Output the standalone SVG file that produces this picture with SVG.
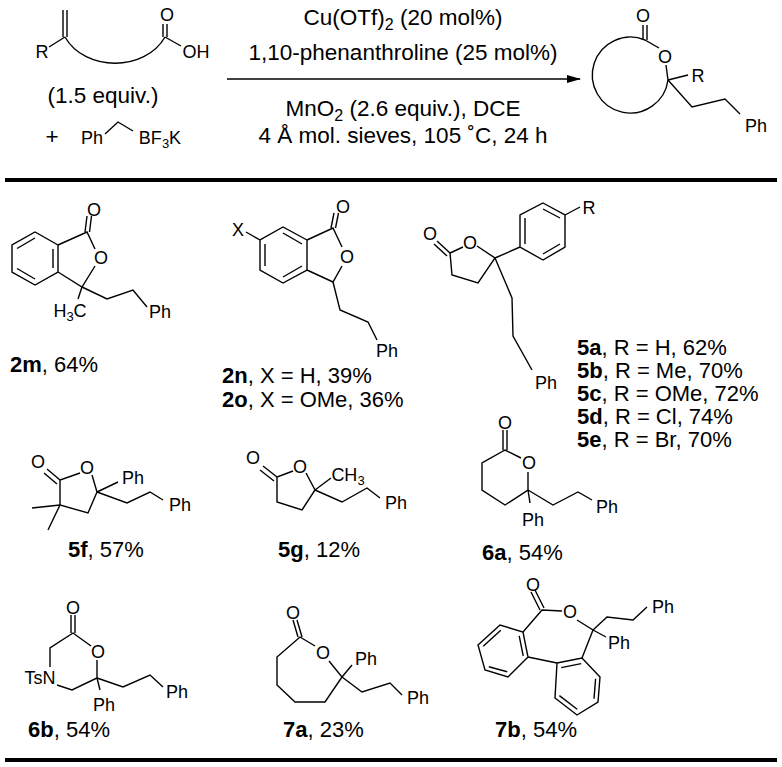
<svg xmlns="http://www.w3.org/2000/svg" width="782" height="767" viewBox="0 0 782 767">
<style>
text{font-family:"Liberation Sans",Arial,sans-serif;fill:#000}
.a{font-size:18px;text-anchor:middle}
.c{font-size:22.5px;text-anchor:middle}
.l{font-size:22px}
.b{font-weight:bold}
.s{font-size:13px}
g.m path,g.m line,g.m polyline,g.m polygon{fill:none;stroke:#000;stroke-width:1.4}
</style>
<defs><marker id="ah" markerWidth="14" markerHeight="8" refX="13" refY="4" orient="auto" markerUnits="userSpaceOnUse"><path d="M0,0 L14,4 L0,8 z" fill="#000"/></marker></defs>
<rect width="782" height="767" fill="#fff"/>
<g id="reactant" class="m">
<line x1="63" y1="10" x2="63" y2="37"/><line x1="67" y1="10" x2="67" y2="37"/>
<line x1="65" y1="37" x2="49" y2="47"/>
<path d="M65,37 C85,72 145,72 165,37"/>
<line x1="163" y1="37" x2="163" y2="24"/><line x1="167" y1="37" x2="167" y2="24"/>
<line x1="165" y1="37" x2="181" y2="46"/>
<text class="a" x="42" y="58">R</text><text class="a" x="167" y="21">O</text><text class="a" x="196" y="58">OH</text>
<text class="c" x="103" y="103">(1.5 equiv.)</text>
<text class="c" x="52" y="144">+</text>
<text class="a" x="92" y="144">Ph</text>
<path d="M105,134 L118,122 L133,131"/>
<text class="a" x="160" y="144">BF<tspan class="s" dy="4">3</tspan><tspan dy="-4">K</tspan></text>
</g>
<g id="conditions" class="m">
<line x1="227" y1="79" x2="580" y2="79" marker-end="url(#ah)"/>
<text class="c" x="403" y="25">Cu(OTf)<tspan font-size="16" dy="5">2</tspan><tspan dy="-5"> (20 mol%)</tspan></text>
<text class="c" x="403" y="60">1,10-phenanthroline (25 mol%)</text>
<text class="c" x="403" y="116">MnO<tspan font-size="16" dy="5">2</tspan><tspan dy="-5"> (2.6 equiv.), DCE</tspan></text>
<text class="c" x="403" y="143">4 Å mol. sieves, 105 ˚C, 24 h</text>
</g>
<g id="product" class="m">
<path d="M645,40 A38,38 0 1 0 668,80"/>
<line x1="643" y1="40" x2="643" y2="25"/><line x1="647" y1="40" x2="647" y2="25"/>
<line x1="645" y1="40" x2="659" y2="48"/><line x1="666" y1="65" x2="668" y2="80"/>
<line x1="668" y1="80" x2="688" y2="75"/>
<polyline points="668,80 692,107 725,99 740,114"/>
<text class="a" x="643" y="22">O</text><text class="a" x="665" y="63">O</text><text class="a" x="698" y="82">R</text><text class="a" x="756" y="132">Ph</text>
</g>
<line x1="5" y1="180" x2="777" y2="180" stroke="#000" stroke-width="4"/>
<line x1="5" y1="760" x2="777" y2="760" stroke="#000" stroke-width="4"/>
<g id="c2m" class="m">
<polygon points="58,245 35,232 12,245 12,272 35,285 58,272"/>
<line x1="35" y1="238" x2="17" y2="248.5"/><line x1="17" y1="268.5" x2="35" y2="279"/><line x1="53" y1="268" x2="53" y2="249"/>
<polyline points="58,245 87,232 95,249"/><polyline points="95,266 82,287 58,272"/>
<line x1="85" y1="232" x2="87" y2="216"/><line x1="89.5" y1="232" x2="91.5" y2="216"/>
<line x1="82" y1="287" x2="78" y2="299"/>
<polyline points="82,287 107,299 133,290 147,307"/>
<text class="a" x="94" y="216">O</text><text class="a" x="101" y="264">O</text>
<text class="a" x="70" y="317">H<tspan class="s" dy="4">3</tspan><tspan dy="-4">C</tspan></text>
<text class="a" x="160" y="318">Ph</text>
<text class="l" x="10" y="372"><tspan class="b">2m</tspan>, 64%</text>
</g>
<g id="c2n" class="m">
<polygon points="307,240 283,227 260,240 260,270 283,283 307,270"/>
<line x1="283" y1="233" x2="302" y2="244"/><line x1="265" y1="244" x2="265" y2="266"/><line x1="283" y1="277" x2="302" y2="266"/>
<line x1="260" y1="240" x2="246" y2="232"/>
<polyline points="307,240 333,228 342,247"/><polyline points="342,266 333,282 307,270"/>
<line x1="331" y1="228" x2="334" y2="213"/><line x1="335.5" y1="228" x2="338.5" y2="213"/>
<polyline points="333,282 340,310 368,322 377,340"/>
<text class="a" x="238" y="236">X</text><text class="a" x="343" y="213">O</text><text class="a" x="347" y="263">O</text><text class="a" x="387" y="357">Ph</text>
<text class="l" x="222" y="383"><tspan class="b">2n</tspan>, X = H, 39%</text>
<text class="l" x="222" y="407"><tspan class="b">2o</tspan>, X = OMe, 36%</text>
</g>
<g id="c5a" class="m">
<polyline points="463,247 450,253 452,275 478,283 495,258 477,246"/>
<line x1="450" y1="253" x2="437" y2="241"/><line x1="447" y1="256" x2="434" y2="244"/>
<polygon points="543,203 565,215 565,247 543,260 520,247 520,215"/>
<line x1="543" y1="209" x2="560" y2="218"/><line x1="560" y1="244" x2="543" y2="254"/><line x1="525" y1="244" x2="525" y2="218"/>
<line x1="495" y1="258" x2="520" y2="247"/>
<line x1="565" y1="215" x2="580" y2="207"/>
<polyline points="495,258 512,298 513,336 532,370"/>
<text class="a" x="546" y="389">Ph</text>
<text class="a" x="430" y="240">O</text><text class="a" x="470" y="249">O</text><text class="a" x="589" y="214">R</text>
<text class="l" x="577" y="355"><tspan class="b">5a</tspan>, R = H, 62%</text>
<text class="l" x="577" y="378"><tspan class="b">5b</tspan>, R = Me, 70%</text>
<text class="l" x="577" y="401"><tspan class="b">5c</tspan>, R = OMe, 72%</text>
<text class="l" x="577" y="424"><tspan class="b">5d</tspan>, R = Cl, 74%</text>
<text class="l" x="577" y="447"><tspan class="b">5e</tspan>, R = Br, 70%</text>
</g>
<g id="c5f" class="m">
<polyline points="80,473 60,480 60,505 88,513 97,492 92,475"/>
<line x1="60" y1="480" x2="47" y2="469"/><line x1="57" y1="484" x2="44" y2="473"/>
<line x1="60" y1="505" x2="32" y2="508"/><line x1="60" y1="505" x2="48" y2="530"/>
<line x1="97" y1="492" x2="118" y2="482"/>
<polyline points="97,492 127,503 150,492 163,500"/>
<text class="a" x="38" y="468">O</text><text class="a" x="87" y="474">O</text><text class="a" x="133" y="484">Ph</text><text class="a" x="180" y="511">Ph</text>
<text class="l" x="68" y="557"><tspan class="b">5f</tspan>, 57%</text>
</g>
<g id="c5g" class="m">
<polyline points="293,471 277,477 277,502 302,510 315,490 306,473"/>
<line x1="277" y1="477" x2="263" y2="466"/><line x1="274" y1="481" x2="260" y2="470"/>
<line x1="315" y1="490" x2="331" y2="478"/>
<polyline points="315,490 342,502 367,488 380,498"/>
<text class="a" x="253" y="464">O</text><text class="a" x="300" y="473">O</text>
<text class="a" x="348" y="481">CH<tspan class="s" dy="4">3</tspan></text>
<text class="a" x="396" y="509">Ph</text>
<text class="l" x="278" y="557"><tspan class="b">5g</tspan>, 12%</text>
</g>
<g id="c6a" class="m">
<polyline points="521,458 505,450 482,463 482,490 505,505 528,490 528,472"/>
<line x1="503" y1="450" x2="503" y2="430"/><line x1="507" y1="450" x2="507" y2="430"/>
<line x1="528" y1="490" x2="530" y2="503"/>
<polyline points="528,490 553,505 578,492 592,500"/>
<text class="a" x="505" y="429">O</text><text class="a" x="529" y="469">O</text><text class="a" x="533" y="526">Ph</text><text class="a" x="607" y="513">Ph</text>
<text class="l" x="482" y="560"><tspan class="b">6a</tspan>, 54%</text>
</g>
<g id="c6b" class="m">
<polyline points="91,646 73,633 50,648 50,667"/><polyline points="57,685 72,690 97,678 97,660"/>
<line x1="71" y1="633" x2="71" y2="615"/><line x1="75" y1="633" x2="75" y2="615"/>
<line x1="97" y1="678" x2="100" y2="690"/>
<polyline points="97,678 123,687 150,675 163,687"/>
<text class="a" x="73" y="614">O</text><text class="a" x="98" y="658">O</text><text class="a" x="40" y="684">TsN</text><text class="a" x="104" y="711">Ph</text><text class="a" x="177" y="698">Ph</text>
<text class="l" x="28" y="737"><tspan class="b">6b</tspan>, 54%</text>
</g>
<g id="c7a" class="m">
<polyline points="315,646 300,637 277,657 277,685 295,702 325,702 342,677 329,661"/>
<line x1="298" y1="637" x2="293" y2="620"/><line x1="302" y1="637" x2="297" y2="620"/>
<line x1="342" y1="677" x2="352" y2="665"/>
<polyline points="342,677 362,692 390,683 402,695"/>
<text class="a" x="293" y="619">O</text><text class="a" x="323" y="659">O</text><text class="a" x="366" y="665">Ph</text><text class="a" x="418" y="704">Ph</text>
<text class="l" x="283" y="737"><tspan class="b">7a</tspan>, 23%</text>
</g>
<g id="c7b" class="m">
<polygon points="478,645 500,625 523,632 528,657 508,677 485,670"/>
<line x1="483.2" y1="646.2" x2="500.8" y2="630.2"/><line x1="519.2" y1="635.8" x2="523.2" y2="655.8"/><line x1="507.2" y1="671.8" x2="488.8" y2="666.8"/>
<polygon points="557,663 582,658 600,677 598,702 577,715 555,698"/>
<line x1="561.2" y1="667.6" x2="581.2" y2="663.6"/><line x1="595.6" y1="678.8" x2="594" y2="698.8"/><line x1="577.2" y1="709.2" x2="559.4" y2="695.6"/>
<line x1="528" y1="657" x2="557" y2="663"/>
<polyline points="523,632 542,610 562,611"/>
<line x1="540" y1="610" x2="531" y2="592"/><line x1="544" y1="608" x2="535" y2="590"/>
<polyline points="577,620 593,630 582,658"/>
<polyline points="593,630 607,617 633,620 647,607"/>
<line x1="593" y1="630" x2="606" y2="637"/>
<text class="a" x="533" y="591">O</text><text class="a" x="570" y="618">O</text><text class="a" x="619" y="649">Ph</text><text class="a" x="663" y="613">Ph</text>
<text class="l" x="495" y="737"><tspan class="b">7b</tspan>, 54%</text>
</g>
</svg>
